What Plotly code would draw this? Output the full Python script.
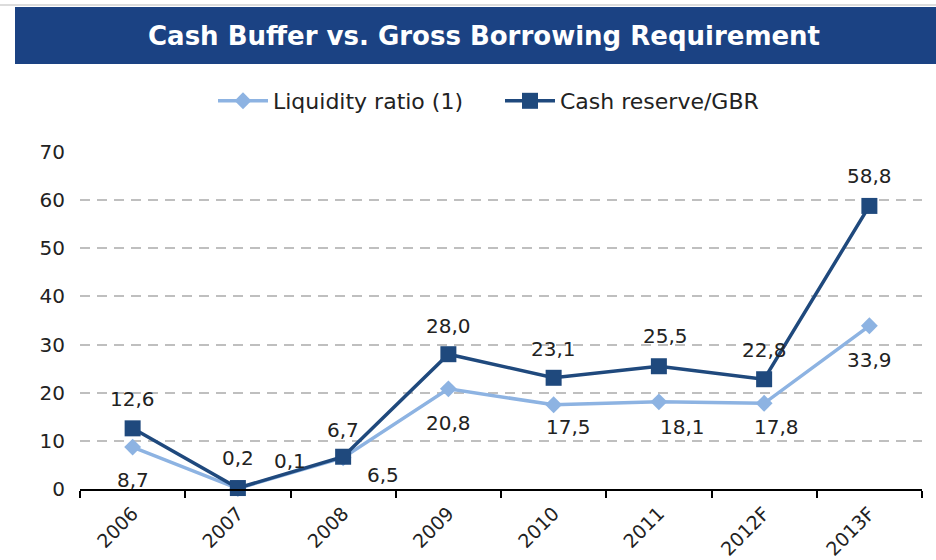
import plotly.graph_objects as go

categories = ["2006", "2007", "2008", "2009", "2010", "2011", "2012F", "2013F"]
liquidity_ratio = [8.7, 0.1, 6.5, 20.8, 17.5, 18.1, 17.8, 33.9]
cash_reserve_gbr = [12.6, 0.2, 6.7, 28.0, 23.1, 25.5, 22.8, 58.8]
y_ticks = [0, 10, 20, 30, 40, 50, 60, 70]

# label placement (pixel offsets) - styling only
liq_xshift = [0, 52, 40, 0, 15, 24, 12, 0]
liq_yshift = [-33, 28, -17, -34, -22, -25, -24, -34]
cash_xshift = [0, 0, 0, 0, 0, 7, 0, 0]
cash_yshift = [29, 30, 27, 28, 29, 30, 29, 30]

FONT = "DejaVu Sans"
DARK = "#1F497D"
LIGHT = "#8DB3E2"
BANNER = "#1B4283"

W, H = 936, 560
L, R, T, B = 80, 14, 152, 71
PW, PH = W - L - R, H - T - B


def px_x(px):
    return (px - L) / PW


def px_y(py):
    return (H - B - py) / PH


def fmt(v):
    return f"{v:.1f}".replace(".", ",")


fig = go.Figure()
fig.add_trace(go.Scatter(
    x=categories, y=liquidity_ratio, name="Liquidity ratio (1)",
    mode="lines+markers", cliponaxis=False,
    line=dict(color=LIGHT, width=3.5),
    marker=dict(symbol="diamond", size=13, color=LIGHT),
))
fig.add_trace(go.Scatter(
    x=categories, y=cash_reserve_gbr, name="Cash reserve/GBR",
    mode="lines+markers", cliponaxis=False,
    line=dict(color=DARK, width=3.5),
    marker=dict(symbol="square", size=16, color=DARK),
))

annotations = []
for i, c in enumerate(categories):
    # category axes take the category index as annotation coordinate
    annotations.append(dict(x=i, y=cash_reserve_gbr[i], text=fmt(cash_reserve_gbr[i]),
                            showarrow=False, xshift=cash_xshift[i], yshift=cash_yshift[i],
                            font=dict(family=FONT, size=20, color="#222222")))
    annotations.append(dict(x=i, y=liquidity_ratio[i], text=fmt(liquidity_ratio[i]),
                            showarrow=False, xshift=liq_xshift[i], yshift=liq_yshift[i],
                            font=dict(family=FONT, size=20, color="#222222")))

annotations.append(dict(
    xref="paper", yref="paper", x=px_x(484), y=px_y(36),
    text="<b>Cash Buffer vs. Gross Borrowing Requirement</b>", showarrow=False,
    xanchor="center", yanchor="middle",
    font=dict(family=FONT, size=26, color="white"),
))

shapes = [
    dict(type="line", xref="paper", yref="paper", x0=px_x(0), x1=px_x(936),
         y0=px_y(5), y1=px_y(5), line=dict(color="#D0D0D0", width=1.5)),
    dict(type="rect", xref="paper", yref="paper", x0=px_x(15), x1=px_x(936),
         y0=px_y(64), y1=px_y(7), fillcolor=BANNER, line=dict(width=0), layer="below"),
]

fig.update_layout(
    width=W, height=H,
    margin=dict(l=L, r=R, t=T, b=B, autoexpand=False),
    paper_bgcolor="white", plot_bgcolor="white",
    font=dict(family=FONT, size=20, color="#222222"),
    showlegend=True,
    legend=dict(orientation="h", x=px_x(213), y=px_y(101), xanchor="left", yanchor="middle",
                font=dict(family=FONT, size=22, color="#222222"),
                itemwidth=50, entrywidth=222, entrywidthmode="pixels",
                bgcolor="rgba(0,0,0,0)"),
    annotations=annotations,
    shapes=shapes,
    xaxis=dict(
        type="category", categoryorder="array", categoryarray=categories,
        range=[-0.5, len(categories) - 0.5], automargin=False,
        showline=True, linecolor="black", linewidth=2,
        ticks="outside", tickson="boundaries", ticklen=7, tickwidth=2, tickcolor="black",
        tickangle=-45, ticklabelstandoff=4,
        tickfont=dict(family=FONT, size=19, color="#222222"),
        showgrid=False, zeroline=False,
    ),
    yaxis=dict(
        range=[0, 70], tickvals=y_ticks, ticktext=[str(v) for v in y_ticks],
        automargin=False,
        showgrid=True, gridcolor="#BFBFBF", gridwidth=2, griddash="10px,7px",
        zeroline=False, showline=False, ticks="",
        ticklabelstandoff=14,
        tickfont=dict(family=FONT, size=20, color="#222222"),
    ),
)

fig.write_html("out.html")
